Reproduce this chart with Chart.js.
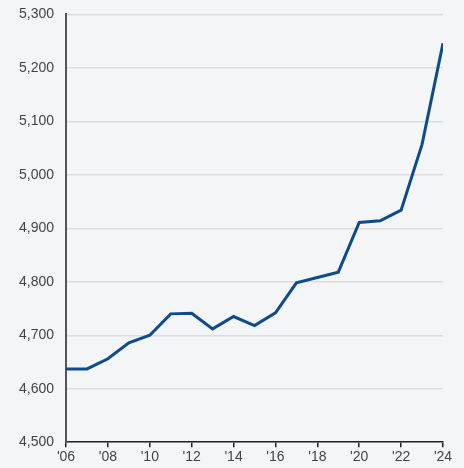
<!DOCTYPE html>
<html>
<head>
<meta charset="utf-8">
<script src="https://cdn.jsdelivr.net/npm/chart.js@4.4.1/dist/chart.umd.min.js"></script>
<style>
  html, body { margin: 0; padding: 0; background: #f4f5f7; overflow: hidden; }
  #wrap { width: 464px; height: 474px; margin-top: -6px; }
</style>
</head>
<body>
<div id="wrap"><canvas id="myChart"></canvas></div>
<script>
var years = [2006, 2007, 2008, 2009, 2010, 2011, 2012, 2013, 2014, 2015,
             2016, 2017, 2018, 2019, 2020, 2021, 2022, 2023, 2024];
var values = [4637, 4637, 4656, 4686, 4700, 4740, 4741, 4712, 4735, 4718,
              4742, 4798, 4808, 4818, 4911, 4914, 4934, 5057, 5246];
var yTicks = [4500, 4600, 4700, 4800, 4900, 5000, 5100, 5200, 5300];

var points = years.map(function (y, i) { return { x: y, y: values[i] }; });

var ctx = document.getElementById("myChart").getContext('2d');
var myChart = new Chart(ctx, {
    type: 'line',
    data: {
        datasets: [{
            data: points,
            borderColor: '#0d4b8e',
            borderWidth: 3,
            pointRadius: 0,
            tension: 0,
            fill: false
        }]
    },
    options: {
        responsive: true,
        maintainAspectRatio: false,
        animation: false,
        layout: { padding: { top: 0, right: 21, left: 7, bottom: 0 } },
        plugins: { legend: { display: false }, tooltip: { enabled: false } },
        scales: {
            x: {
                type: 'linear',
                min: 2006,
                max: 2024,
                border: { color: '#222', width: 1.5 },
                grid: { drawOnChartArea: false, drawTicks: true, tickLength: 5, color: '#222', lineWidth: 1.5 },
                ticks: {
                    stepSize: 2,
                    color: '#444',
                    padding: 2,
                    maxRotation: 0,
                    font: { family: 'Liberation Sans', size: 14 },
                    callback: function (v) { return "'" + String(v).slice(2); }
                }
            },
            y: {
                min: yTicks[0],
                max: yTicks[yTicks.length - 1],
                border: { color: '#555', width: 2 },
                grid: { color: '#dcdde0', lineWidth: 1.5, drawTicks: false },
                afterBuildTicks: function (axis) {
                    axis.ticks = yTicks.map(function (v) { return { value: v }; });
                },
                ticks: {
                    color: '#444',
                    padding: 12,
                    font: { family: 'Liberation Sans', size: 14 },
                    callback: function (v) { return v.toLocaleString('en-US'); }
                }
            }
        }
    }
});
</script>
</body>
</html>
